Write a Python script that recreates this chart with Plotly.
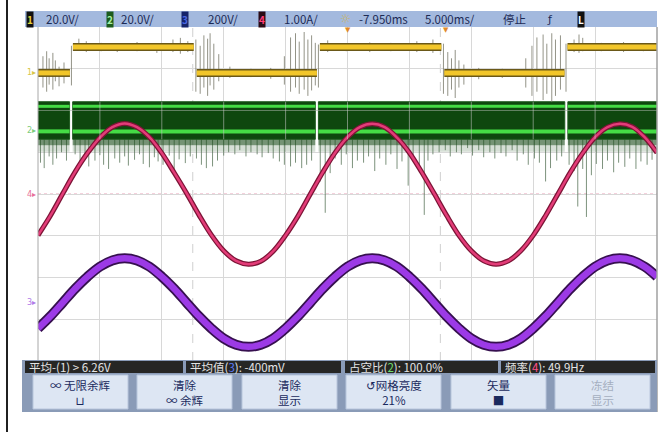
import plotly.graph_objects as go

W, H = 665, 432

# ---------------- data (time in ms, amplitude in screen divisions) ----------------
t_ms = list(range(0, 51))

ch4_current = [-0.99, -0.52, 0.01, 0.53, 0.98, 1.35, 1.60, 1.69, 1.60, 1.36,
               0.98, 0.51, 0.02, -0.50, -0.98, -1.36, -1.60, -1.68, -1.61, -1.37,
               -0.99, -0.53, 0.00, 0.52, 0.99, 1.36, 1.60, 1.68, 1.60, 1.35,
               0.99, 0.52, 0.01, -0.51, -0.99, -1.36, -1.60, -1.68, -1.60, -1.36,
               -0.99, -0.52, 0.00, 0.52, 0.98, 1.36, 1.60, 1.68, 1.61, 1.36, 0.99]

ch3_voltage = [-3.22, -2.93, -2.60, -2.27, -1.98, -1.74, -1.59, -1.54, -1.59, -1.74,
               -1.98, -2.27, -2.60, -2.93, -3.22, -3.46, -3.61, -3.66, -3.61, -3.46,
               -3.22, -2.93, -2.60, -2.27, -1.98, -1.74, -1.59, -1.54, -1.59, -1.74,
               -1.98, -2.27, -2.60, -2.93, -3.22, -3.46, -3.61, -3.66, -3.61, -3.46,
               -3.22, -2.93, -2.60, -2.27, -1.98, -1.74, -1.59, -1.54, -1.59, -1.74, -1.98]

ch1_high, ch1_low = 3.52, 2.90
ch1_edges = [0, 2.7, 12.7, 22.65, 32.7, 42.65, 50]
ch1_states = [0, 1, 0, 1, 0, 1]

ch1_spike_t = [0.4, 0.7, 0.9, 1.2, 1.4, 1.7, 2.1, 2.7, 3.3, 3.9, 5.1, 6.4, 8.0, 9.6, 10.9, 11.5, 12.1,
               12.75, 13.1, 13.4, 13.7, 13.9, 14.2, 14.6, 15.5, 17.2, 18.8, 19.9, 20.4, 20.8, 21.1,
               21.5, 21.8, 22.1, 22.4, 22.65, 23.4, 24.9, 26.8, 28.5, 30.6, 31.9, 32.75, 33.1, 33.4,
               33.7, 34.0, 34.4, 35.6, 37.5, 39.4, 39.9, 40.3, 40.8, 41.1, 41.5, 41.8, 42.2, 42.65,
               43.3, 43.7, 44.0, 45.5, 47.3, 48.9]
ch1_spike_lo = [2.55, 2.45, 2.62, 2.50, 2.70, 2.58, 2.65, 2.60, 3.45, 3.40, 3.42, 3.40, 3.42, 3.38, 3.40, 3.36, 3.40,
                2.45, 2.40, 2.55, 2.35, 2.60, 2.50, 2.70, 2.78, 2.80, 2.76, 2.62, 2.45, 2.55, 2.40,
                2.50, 2.35, 2.48, 2.60, 2.55, 3.40, 3.42, 3.40, 3.42, 3.40, 3.38, 2.40, 2.35, 2.50,
                2.30, 2.55, 2.62, 2.75, 2.78, 2.55, 2.35, 2.45, 2.25, 2.40, 2.20, 2.35, 2.50, 2.45,
                3.40, 3.38, 3.42, 3.42, 3.40, 3.42]
ch1_spike_hi = [3.30, 3.42, 3.25, 3.38, 3.20, 3.05, 3.15, 3.55, 3.72, 3.66, 3.62, 3.60, 3.64, 3.60, 3.70, 3.74, 3.66,
                3.70, 3.55, 3.80, 3.72, 3.85, 3.60, 3.35, 3.05, 3.00, 3.02, 3.30, 3.75, 3.85, 3.65,
                3.88, 3.70, 3.80, 3.62, 3.58, 3.68, 3.60, 3.63, 3.62, 3.66, 3.70, 3.60, 3.40, 3.25,
                3.45, 3.20, 3.10, 3.02, 3.00, 3.25, 3.55, 3.75, 3.82, 3.60, 3.85, 3.70, 3.80, 3.60,
                3.70, 3.82, 3.74, 3.62, 3.64, 3.60]

ch2_seg_start = [0.0, 2.8, 22.65, 42.8]
ch2_seg_end = [2.55, 22.4, 42.55, 50.0]
ch2_top, ch2_hi, ch2_lo, ch2_bottom = 2.21, 2.10, 1.50, 1.31

ch2_spike_t = [0.2, 0.5, 0.9, 1.2, 1.5, 1.9, 2.3,
               3.0, 3.4, 3.8, 4.1, 4.6, 5.0, 5.3, 5.7, 6.2, 6.6, 7.0, 7.3, 7.8, 8.2, 8.5, 9.0, 9.4, 9.7,
               10.1, 10.6, 11.0, 11.4, 11.9, 12.3,
               12.8, 13.2, 13.6, 14.1, 14.5, 15.0, 15.4, 15.9, 16.3, 16.8, 17.2, 17.7, 18.1, 18.6, 19.0,
               19.5, 19.9, 20.4, 20.8, 21.3, 21.7, 22.1,
               22.8, 23.2, 23.6, 24.0, 24.5, 24.9, 25.4, 25.8, 26.3, 26.7, 27.2, 27.6, 28.1, 28.5, 29.0,
               29.4, 29.9, 30.3, 30.8, 31.2, 31.5, 31.9, 32.4, 32.9, 33.3, 33.8, 34.2, 34.7, 35.1, 35.6,
               36.0, 36.5, 36.9, 37.4, 37.8, 38.3, 38.7, 39.2, 39.6, 40.1, 40.5, 41.0, 41.4, 41.9, 42.3,
               42.9, 43.3, 43.6, 44.0, 44.3, 44.7, 45.1, 45.6, 46.0, 46.5, 46.9, 47.4, 47.8, 48.3, 48.7,
               49.2, 49.6]
ch2_spike_tip = [0.75, 0.62, 0.90, 0.70, 0.85, 1.00, 0.80,
                 0.95, 0.72, 0.88, 0.66, 0.80, 0.93, 0.70, 0.60, 0.85, 0.75, 0.90, 0.68, 0.82, 0.95, 0.72,
                 0.64, 0.88, 0.78, 0.70, 0.92, 0.60, 0.83, 0.74, 0.90,
                 0.85, 0.70, 0.62, 0.66, 0.80, 0.92, 1.00, 0.95, 1.05, 0.90, 1.00, 0.95, 0.88, 0.98, 0.85,
                 0.78, 0.70, 0.66, 0.75, 0.62, 0.70, 0.80,
                 0.30, -0.45, 0.50, 0.85, 0.70, 0.95, 0.62, 0.80, 0.75, 0.90, 0.55, 0.85, 0.70, 0.95, 0.60,
                 0.78, 0.20, 0.90, 0.65, -0.50, 0.80, 0.95, 1.00, 1.05, 0.90, 1.00, 0.95, 1.10, 0.92, 1.05,
                 0.88, 1.00, 0.85, 0.98, 0.90, 1.05, 0.80, 0.95, 0.70, 0.85, 0.75, 0.30, 0.62, 0.80, 0.90,
                 0.70, 0.55, -0.30, 0.60, -0.55, 0.45, 0.72, 0.60, 0.80, 0.52, 0.75, 0.65, 0.85, 0.60, 0.78,
                 0.70, 0.82]

header_items = ["20.0V/", "20.0V/", "200V/", "1.00A/", "-7.950ms", "5.000ms/", "停止"]
measure_labels = ["平均-(1) > 6.26V",
                  "平均值(<span style='color:#5b7bff'>3</span>): -400mV",
                  "占空比(<span style='color:#6fe06f'>2</span>): 100.0%",
                  "频率(<span style='color:#ff4f86'>4</span>): 49.9Hz"]
button_line1 = ["∞ 无限余辉", "清除", "清除", "↺网格亮度", "矢量", "冻结"]
button_line2 = ["⊔", "∞ 余辉", "显示", "21%", "■", "显示"]

# ---------------- helpers ----------------
def px(x):
    return x / W


def py(y):
    return 1 - y / H


FONT = "Noto Sans CJK SC, Noto Sans, DejaVu Sans, sans-serif"
fig = go.Figure()

# ---- channel 2 noise below band
gx, gy = [], []
for t, tip in zip(ch2_spike_t, ch2_spike_tip):
    gx += [t, t, None]
    gy += [tip, ch2_bottom, None]
fig.add_trace(go.Scatter(x=gx, y=gy, mode="lines", line=dict(color="rgba(80,110,80,0.75)", width=1),
                         hoverinfo="skip", showlegend=False))

# ---- channel 2 band
bx, by, fx, fy, f2x, f2y, hx, hy, lx, ly = [], [], [], [], [], [], [], [], [], []
for s, e in zip(ch2_seg_start, ch2_seg_end):
    bx += [s, e, e, s, s, None]
    by += [ch2_top, ch2_top, ch2_bottom, ch2_bottom, ch2_top, None]
    fx += [s, e, e, s, s, None]
    fy += [ch2_bottom, ch2_bottom, ch2_bottom - 0.14, ch2_bottom - 0.14, ch2_bottom, None]
    f2x += [s, e, e, s, s, None]
    f2y += [ch2_bottom - 0.14, ch2_bottom - 0.14, ch2_bottom - 0.3, ch2_bottom - 0.3, ch2_bottom - 0.14, None]
    hx += [s, e, None]
    hy += [ch2_hi, ch2_hi, None]
    lx += [s, e, None]
    ly += [ch2_lo, ch2_lo, None]
fig.add_trace(go.Scatter(x=f2x, y=f2y, mode="lines", fill="toself", fillcolor="rgba(70,110,70,0.22)",
                         line=dict(width=0), hoverinfo="skip", showlegend=False))
fig.add_trace(go.Scatter(x=fx, y=fy, mode="lines", fill="toself", fillcolor="rgba(25,75,25,0.6)",
                         line=dict(width=0), hoverinfo="skip", showlegend=False))
fig.add_trace(go.Scatter(x=bx, y=by, mode="lines", fill="toself", fillcolor="#0e470e",
                         line=dict(color="#1f5a1f", width=1), hoverinfo="skip", showlegend=False))
fig.add_trace(go.Scatter(x=hx, y=hy, mode="lines", line=dict(color="#45dc45", width=3),
                         hoverinfo="skip", showlegend=False))
fig.add_trace(go.Scatter(x=lx, y=ly, mode="lines", line=dict(color="#45dc45", width=4),
                         hoverinfo="skip", showlegend=False))

# ---- channel 1 noise + trace
sx, sy = [], []
for t, lo, hi in zip(ch1_spike_t, ch1_spike_lo, ch1_spike_hi):
    sx += [t, t, None]
    sy += [lo, hi, None]
fig.add_trace(go.Scatter(x=sx, y=sy, mode="lines", line=dict(color="rgba(120,120,105,0.8)", width=1),
                         hoverinfo="skip", showlegend=False))
yx, yy = [], []
for i, st in enumerate(ch1_states):
    lvl = ch1_high if st else ch1_low
    yx += [ch1_edges[i] + (0.12 if i else 0), ch1_edges[i + 1] - (0.12 if i < len(ch1_states) - 1 else 0), None]
    yy += [lvl, lvl, None]
fig.add_trace(go.Scatter(x=yx, y=yy, mode="lines", line=dict(color="#6a5818", width=8),
                         hoverinfo="skip", showlegend=False))
fig.add_trace(go.Scatter(x=yx, y=yy, mode="lines", line=dict(color="#f2c62a", width=5),
                         hoverinfo="skip", showlegend=False))

# ---- channel 4 (pink) and channel 3 (purple)
fig.add_trace(go.Scatter(x=t_ms, y=ch4_current, mode="lines", line=dict(color="#7c1436", width=5, shape="spline"),
                         hoverinfo="skip", showlegend=False))
fig.add_trace(go.Scatter(x=t_ms, y=ch4_current, mode="lines", line=dict(color="#e33c78", width=2.5, shape="spline"),
                         hoverinfo="skip", showlegend=False))
fig.add_trace(go.Scatter(x=t_ms, y=ch3_voltage, mode="lines", line=dict(color="#36104f", width=10, shape="spline"),
                         hoverinfo="skip", showlegend=False))
fig.add_trace(go.Scatter(x=t_ms, y=ch3_voltage, mode="lines", line=dict(color="#9c3ae6", width=6.5, shape="spline"),
                         hoverinfo="skip", showlegend=False))

shapes = []
# grid seen over the green band
for gxv in range(5, 50, 5):
    shapes.append(dict(type="line", xref="x", yref="y", x0=gxv, x1=gxv, y0=ch2_bottom, y1=ch2_top,
                       line=dict(color="rgba(200,200,200,0.55)", width=1), layer="above"))
shapes.append(dict(type="line", xref="x", yref="y", x0=0, x1=50, y0=2, y1=2,
                   line=dict(color="rgba(200,200,200,0.45)", width=1), layer="above"))
# ch4 reference & cursors
shapes.append(dict(type="line", xref="x", yref="y", x0=0, x1=50, y0=0, y1=0,
                   line=dict(color="#e9a2b8", width=1, dash="dot"), layer="below"))
for cx in (12.5, 32.5):
    shapes.append(dict(type="line", xref="x", yref="y", x0=cx, x1=cx, y0=-4, y1=4,
                       line=dict(color="#cfcfcf", width=1, dash="dash"), layer="below"))
# plot borders
shapes.append(dict(type="line", xref="paper", yref="paper", x0=px(38), x1=px(38), y0=py(27), y1=py(361),
                   line=dict(color="#a8a8a8", width=1)))
shapes.append(dict(type="line", xref="paper", yref="paper", x0=px(657), x1=px(657), y0=py(27), y1=py(412),
                   line=dict(color="#a0a0a0", width=1.5)))
# left black rule
shapes.append(dict(type="line", xref="paper", yref="paper", x0=px(7), x1=px(7), y0=0, y1=1,
                   line=dict(color="#202020", width=2)))
# header bar
shapes.append(dict(type="rect", xref="paper", yref="paper", x0=px(25), x1=px(657), y0=py(27), y1=py(11),
                   fillcolor="#a3b9de", line=dict(width=0)))
# bottom panel
shapes.append(dict(type="rect", xref="paper", yref="paper", x0=px(22), x1=px(657), y0=py(412), y1=py(360),
                   fillcolor="#8a9bb7", line=dict(width=0)))
seg_x = [(25, 183), (186, 341), (345, 498), (501, 655)]
for a, b in seg_x:
    shapes.append(dict(type="rect", xref="paper", yref="paper", x0=px(a), x1=px(b), y0=py(373), y1=py(361),
                       fillcolor="#262624", line=dict(width=0)))
btn_x = [(33, 128), (137, 232), (242, 337), (346, 441), (451, 546), (555, 650)]
for a, b in btn_x:
    shapes.append(dict(type="rect", xref="paper", yref="paper", x0=px(a), x1=px(b), y0=py(409), y1=py(375),
                       fillcolor="#dde6f3", line=dict(color="#b8c6dc", width=1)))

ann = []
# header text
hdr_pos = [62, 137, 223, 301, 383, 450, 514]
for txt, xc in zip(header_items, hdr_pos):
    ann.append(dict(x=px(xc), y=py(19), xref="paper", yref="paper", text=txt, showarrow=False,
                    font=dict(family=FONT, size=11.5, color="#1c2a55"), xanchor="center", yanchor="middle"))
boxes = [(30, "1", "#101010", "#e6d43a"), (109.5, "2", "#1c5c1c", "#a8f0a8"),
         (185, "3", "#16246a", "#4a66e0"), (261.5, "4", "#2a0a14", "#ff3d7a"),
         (581, "L", "#101010", "#ffffff")]
for xc, txt, bg, fc in boxes:
    ann.append(dict(x=px(xc), y=py(19), xref="paper", yref="paper", text=f"<b>{txt}</b>", showarrow=False,
                    bgcolor=bg, borderpad=0, font=dict(family=FONT, size=10, color=fc),
                    xanchor="center", yanchor="middle"))
ann.append(dict(x=px(345), y=py(19), xref="paper", yref="paper", text="☼", showarrow=False,
                font=dict(family="DejaVu Sans", size=12, color="#c9b45e"), xanchor="center", yanchor="middle"))
ann.append(dict(x=px(550), y=py(19), xref="paper", yref="paper", text="ƒ", showarrow=False,
                font=dict(family="DejaVu Sans", size=11, color="#1c2a55"), xanchor="center", yanchor="middle"))
# trigger markers
for tx in (25.0, 32.95):
    ann.append(dict(x=tx, y=py(30), xref="x", yref="paper", text="▼", showarrow=False,
                    font=dict(family="DejaVu Sans", size=7, color="#e08a2a"), xanchor="center", yanchor="middle"))
# channel ground markers
markers = [("1▸", ch1_low, "#d8c64a"), ("2▸", 1.53, "#7ccc7c"), ("4▸", 0.0, "#e8709a"), ("3▸", -2.6, "#b07ae8")]
for txt, yv, col in markers:
    ann.append(dict(x=px(31), y=yv, xref="paper", yref="y", text=txt, showarrow=False,
                    font=dict(family="DejaVu Sans", size=8, color=col), xanchor="center", yanchor="middle"))
# measurements
for (a, b), txt in zip(seg_x, measure_labels):
    ann.append(dict(x=px(a + 2), y=py(367), xref="paper", yref="paper", text=txt, showarrow=False,
                    font=dict(family=FONT, size=11.5, color="#e4e4e4"), xanchor="left", yanchor="middle"))
# buttons (two-line labels as one text each)
for i, ((a, b), l1, l2) in enumerate(zip(btn_x, button_line1, button_line2)):
    col = "#a5afbf" if i == 5 else "#1a2a5e"
    ann.append(dict(x=px((a + b) / 2), y=py(392), xref="paper", yref="paper", text=f"{l1}<br>{l2}",
                    showarrow=False, align="center",
                    font=dict(family=FONT, size=11.5, color=col), xanchor="center", yanchor="middle"))

fig.update_layout(
    width=W, height=H, margin=dict(l=0, r=0, t=0, b=0),
    paper_bgcolor="white", plot_bgcolor="white",
    showlegend=False, hovermode=False,
    shapes=shapes, annotations=ann,
    xaxis=dict(domain=[px(38), px(657)], range=[0, 50], tick0=0, dtick=5, showgrid=True,
               gridcolor="#d8d8d8", gridwidth=1, zeroline=False, showticklabels=False, ticks="",
               fixedrange=True),
    yaxis=dict(domain=[py(361), py(27)], range=[-4, 4], tick0=0, dtick=1, showgrid=True,
               gridcolor="#d8d8d8", gridwidth=1, zeroline=False, showticklabels=False, ticks="",
               fixedrange=True),
)

fig.write_html("out.html", config={"displayModeBar": False},
               post_script="document.body.style.margin='0';document.body.style.overflow='hidden';")
